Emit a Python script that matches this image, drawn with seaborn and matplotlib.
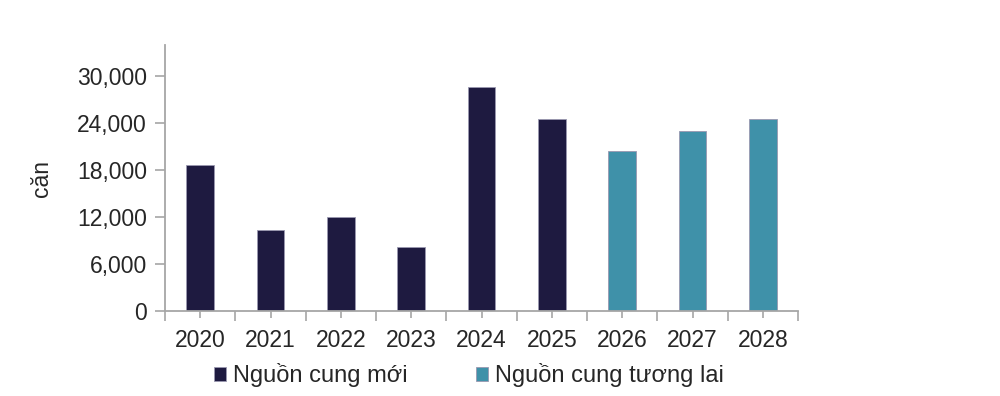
import matplotlib
matplotlib.use('Agg')
import matplotlib.pyplot as plt
import pandas as pd
import seaborn as sns
from matplotlib.ticker import FuncFormatter, FixedLocator

sns.set_theme(style='white')
plt.rcParams['font.family'] = ['Liberation Sans', 'DejaVu Sans']

years = ['2020', '2021', '2022', '2023', '2024', '2025', '2026', '2027', '2028']
supply = [18600, 10400, 12000, 8200, 28600, 24500, 20500, 23000, 24500]
series = ['Nguồn cung mới'] * 6 + ['Nguồn cung tương lai'] * 3
colors = {'Nguồn cung mới': '#1e1a40', 'Nguồn cung tương lai': '#3f91a9'}

df = pd.DataFrame({'year': years, 'supply': supply, 'series': series})

fig = plt.figure(figsize=(10, 3.96), dpi=100)
ax = fig.add_axes([0.165, 0.215, 0.633, 0.671])

sns.barplot(data=df, x='year', y='supply', hue='series', palette=colors,
            dodge=False, width=0.39, edgecolor='#9a98b0', linewidth=0.6,
            saturation=1, ax=ax)

ax.set_xlim(-0.5, len(years) - 0.5)
ax.set_ylim(0, 34000)
ax.set_yticks(range(0, 30001, 6000))
ax.yaxis.set_major_formatter(FuncFormatter(lambda v, p: f'{int(v):,}'))
ax.set_xticks(range(len(years)))
ax.xaxis.set_minor_locator(FixedLocator([i - 0.5 for i in range(len(years) + 1)]))

for s in ['top', 'right']:
    ax.spines[s].set_visible(False)
for s in ['left', 'bottom']:
    ax.spines[s].set_color('#a6a6a6')
    ax.spines[s].set_linewidth(1.3)

ax.tick_params(axis='y', which='major', left=True, length=7, width=1.2,
               color='#a6a6a6', labelsize=16.5, labelcolor='#262626', pad=6)
ax.tick_params(axis='x', which='major', bottom=True, length=5, width=1.2,
               color='#a6a6a6', labelsize=16.5, labelcolor='#262626', pad=8)
ax.tick_params(axis='x', which='minor', bottom=True, length=7, width=1.2,
               color='#a6a6a6')

ax.set_xlabel('')
ax.set_ylabel('căn', fontsize=16.5, color='#262626', labelpad=17)

ax.legend(loc='center left', bbox_to_anchor=(0.214, 1 - 375 / 396),
          bbox_transform=fig.transFigure, ncol=2, frameon=False, fontsize=17,
          borderpad=0, borderaxespad=0, handlelength=0.52, handleheight=0.52,
          handletextpad=0.28, columnspacing=2.9, labelcolor='#262626')

fig.savefig('out.png', dpi=100)
